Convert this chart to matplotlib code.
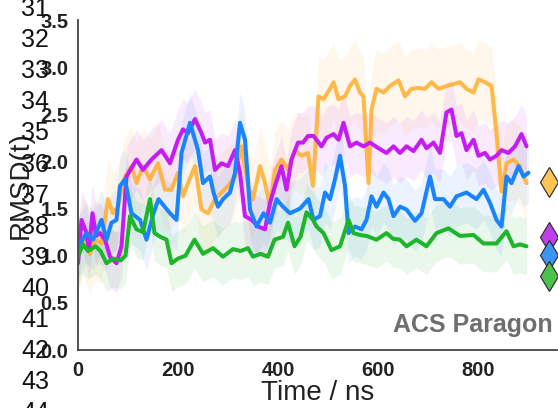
import matplotlib
matplotlib.use("Agg")
import matplotlib.pyplot as plt
import numpy as np

plt.rcParams['font.family'] = ['Liberation Sans', 'DejaVu Sans']

# ---------------- data ----------------
orange_t = [0, 10, 24, 34, 47, 60, 70, 80, 94, 107, 117, 130, 144, 160, 174, 187, 200, 210, 220, 234,
            247, 260, 274, 287, 300, 314, 327, 340, 350, 364, 374, 384, 394, 407, 420, 434, 447, 460,
            470, 481, 491, 504, 511, 521, 534, 544, 554, 564, 571, 581, 587, 597, 611, 624, 641, 654,
            667, 681, 694, 707, 721, 737, 751, 764, 777, 791, 801, 814, 827, 837, 847, 857, 871, 884, 897]
orange_v = [1.02, 1.21, 1.02, 1.17, 1.13, 1.60, 1.45, 1.52, 1.84, 1.95, 1.77, 1.95, 1.81, 1.98, 1.70, 1.70,
            1.88, 1.63, 1.77, 1.95, 1.49, 1.45, 1.60, 1.67, 1.74, 1.84, 2.16, 1.74, 1.60, 1.95, 1.77, 1.52,
            1.91, 2.02, 1.91, 2.12, 2.06, 2.09, 1.74, 2.69, 2.66, 2.77, 2.84, 2.66, 2.69, 2.80, 2.87, 2.73,
            2.69, 1.77, 2.55, 2.77, 2.73, 2.80, 2.86, 2.69, 2.77, 2.78, 2.77, 2.84, 2.77, 2.80, 2.82, 2.84,
            2.77, 2.73, 2.87, 2.84, 2.80, 2.30, 1.68, 1.98, 2.02, 1.95, 1.77]

purple_t = [0, 7, 17, 22, 29, 36, 44, 54, 64, 77, 87, 97, 117, 130, 147, 167, 184, 200, 210, 220, 234,
            247, 254, 264, 274, 287, 300, 314, 324, 334, 347, 360, 374, 384, 394, 407, 417, 427, 440,
            450, 460, 471, 487, 497, 511, 521, 531, 544, 557, 571, 584, 601, 617, 631, 644, 657, 671,
            687, 697, 711, 724, 737, 747, 757, 767, 777, 791, 801, 814, 824, 837, 847, 861, 874, 887, 897]
purple_v = [0.92, 1.38, 1.24, 1.06, 1.45, 1.21, 1.24, 1.17, 0.99, 0.92, 1.10, 1.84, 2.02, 1.91, 2.02, 2.12,
            1.98, 2.23, 2.34, 2.30, 2.45, 2.30, 2.20, 2.23, 1.91, 1.98, 1.95, 2.12, 1.88, 1.42, 1.38, 1.31,
            1.28, 1.56, 1.74, 1.95, 1.70, 2.02, 2.20, 2.20, 2.27, 2.27, 2.16, 2.25, 2.29, 2.23, 2.41, 2.16,
            2.20, 2.16, 2.20, 2.14, 2.09, 2.16, 2.09, 2.16, 2.11, 2.23, 2.14, 2.20, 2.09, 2.52, 2.55, 2.27,
            2.30, 2.12, 2.23, 2.06, 2.09, 2.02, 2.06, 2.12, 2.09, 2.16, 2.29, 2.16]

blue_t = [0, 17, 30, 47, 57, 67, 77, 84, 94, 107, 124, 137, 151, 161, 184, 197, 207, 224, 240, 250, 264,
          271, 280, 290, 304, 314, 324, 334, 344, 357, 371, 384, 397, 410, 424, 444, 461, 471, 484, 494,
          504, 514, 524, 534, 541, 554, 567, 577, 587, 597, 611, 621, 631, 644, 657, 674, 687, 704, 714,
          731, 744, 757, 777, 797, 811, 824, 837, 847, 857, 867, 881, 891, 901]
blue_v = [1.09, 1.24, 1.17, 1.38, 1.17, 1.35, 1.38, 1.74, 1.81, 1.45, 1.38, 1.17, 1.45, 1.60, 1.45, 1.38,
          2.09, 2.41, 2.12, 1.77, 1.84, 1.67, 1.52, 1.60, 1.67, 1.88, 2.41, 2.23, 1.49, 1.31, 1.45, 1.35,
          1.60, 1.52, 1.45, 1.50, 1.60, 1.38, 1.42, 1.67, 1.60, 1.81, 2.06, 1.74, 1.24, 1.31, 1.28, 1.38,
          1.63, 1.52, 1.67, 1.60, 1.42, 1.52, 1.49, 1.37, 1.45, 1.84, 1.60, 1.60, 1.52, 1.63, 1.67, 1.60,
          1.70, 1.56, 1.38, 1.31, 1.84, 1.77, 1.95, 1.84, 1.88]

green_t = [0, 10, 20, 35, 45, 57, 70, 85, 95, 104, 117, 130, 144, 153, 165, 177, 187, 200, 215, 233, 250,
           270, 290, 310, 325, 340, 350, 365, 380, 393, 410, 420, 433, 445, 457, 470, 477, 491, 507, 524,
           541, 551, 564, 577, 597, 617, 630, 644, 657, 677, 697, 717, 741, 764, 791, 811, 837, 857, 871,
           884, 897]
green_v = [0.99, 1.12, 1.05, 1.10, 1.05, 0.92, 0.97, 0.95, 1.00, 1.42, 1.28, 1.25, 1.60, 1.24, 1.20, 1.17,
           0.92, 0.97, 1.00, 1.17, 1.02, 1.08, 0.99, 1.07, 1.05, 1.08, 0.99, 1.02, 0.99, 1.17, 1.20, 1.35,
           1.10, 1.20, 1.46, 1.38, 1.31, 1.24, 1.06, 1.10, 1.38, 1.24, 1.22, 1.21, 1.17, 1.24, 1.18, 1.17,
           1.10, 1.17, 1.10, 1.24, 1.29, 1.21, 1.22, 1.13, 1.13, 1.26, 1.10, 1.12, 1.10]

# half-width of the faint raw-data haze around each running mean
spread = {'orange': 0.42, 'purple': 0.32, 'blue': 0.32, 'green': 0.30}

# reference diamonds on the right
diamond_t = 942
diamond_v = {'orange': 1.78, 'purple': 1.20, 'blue': 1.01, 'green': 0.78}

y_ticks = [0.0, 0.5, 1.0, 1.5, 2.0, 2.5, 3.0, 3.5]
x_ticks = [0, 200, 400, 600, 800]
line_numbers = ['31', '32', '33', '34', '35', '36', '37', '38', '39', '40', '41', '42', '43', '44']

# ---------------- figure ----------------
W, H = 558, 408
fig = plt.figure(figsize=(W / 100, H / 100), dpi=100)
ax = fig.add_axes([78 / W, 58 / H, 479 / W, 330 / H])

series = [
    ('orange', orange_t, orange_v, '#FFAE2E', '#FFC454', 0.85),
    ('purple', purple_t, purple_v, '#C41CF2', '#C23FF0', 1.0),
    ('blue', blue_t, blue_v, '#1A84FF', '#3C95F5', 1.0),
    ('green', green_t, green_v, '#1DB52A', '#4CC24C', 1.0),
]

for name, t, v, col, dcol, a in series:
    t = np.asarray(t, float)
    v = np.asarray(v, float)
    ax.fill_between(t, v - spread[name], v + spread[name], color=col, alpha=0.09, lw=0)

for name, t, v, col, dcol, a in series:
    ax.plot(t, v, color=col, lw=2.9, alpha=a, solid_joinstyle='round', solid_capstyle='round')

for name, t, v, col, dcol, a in series:
    ax.plot([diamond_t], [diamond_v[name]], marker='d', ms=15, color=dcol,
            markeredgecolor='#333333', markeredgewidth=0.9, clip_on=False, zorder=5)

ax.set_xlim(0, 958)
ax.set_ylim(0, 3.5)
ax.set_xticks(x_ticks)
ax.set_yticks(y_ticks)
ax.set_yticklabels([f'{y:.1f}' for y in y_ticks])
ax.tick_params(length=0, labelsize=14.5, labelcolor='#222222')
ax.tick_params(axis='x', pad=8)
ax.tick_params(axis='y', pad=7)
for lab in ax.get_xticklabels() + ax.get_yticklabels():
    lab.set_fontweight('bold')

for s in ['top', 'right']:
    ax.spines[s].set_visible(False)
for s in ['left', 'bottom']:
    ax.spines[s].set_color('#444444')
    ax.spines[s].set_linewidth(1.3)

ax.set_xlabel('Time / ns', fontsize=20, color='#222222')
ax.xaxis.set_label_coords(0.5, -0.09)

fig.text(21 / W, 1 - 185 / H, 'RMSD(t)', rotation=90, ha='center', va='center',
         fontsize=20, color='#222222')

ax.text(553 / W, 1 - 325 / H, 'ACS Paragon', transform=fig.transFigure, ha='right', va='center',
        fontsize=18, fontweight='bold', color='#6E6E6E')

for i, lab in enumerate(line_numbers):
    yc = 9 + 31.1 * i
    fig.text(21 / W, 1 - yc / H, lab, ha='left', va='center', fontsize=18, color='#111111')

fig.savefig('out.png', dpi=100)
